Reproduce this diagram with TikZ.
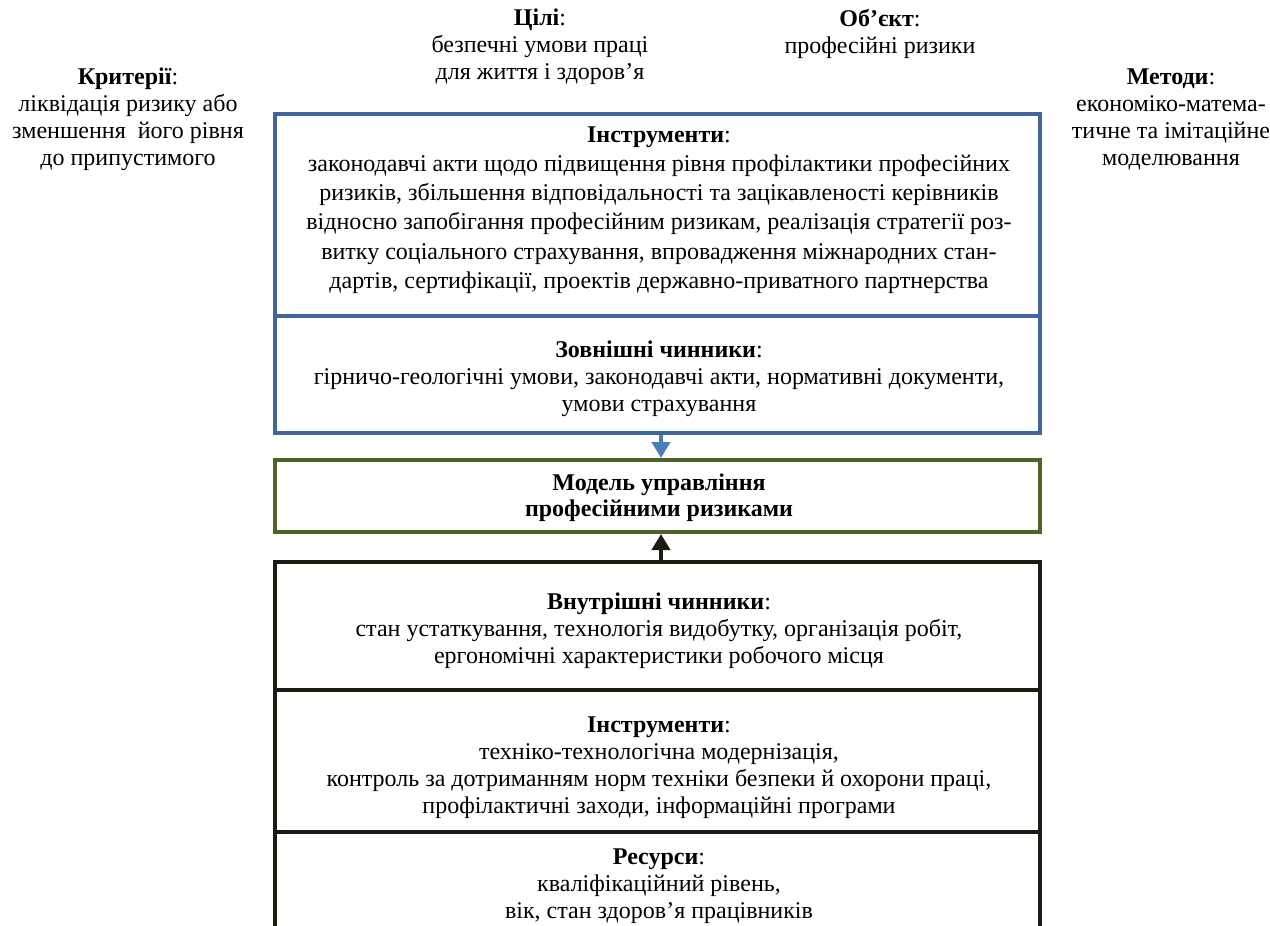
\documentclass[tikz,border=0pt]{standalone}
\usepackage{fontspec}
\setmainfont{Liberation Serif}
\usetikzlibrary{arrows.meta}
\definecolor{bbord}{HTML}{41679A}
\definecolor{barrow}{HTML}{4A7EBB}
\definecolor{gbord}{HTML}{4F6228}
\definecolor{kbord}{HTML}{1E1C12}
\tikzset{
  txt/.style={align=center, inner sep=0pt, font=\fontsize{12}{13.5}\selectfont},
  txtw/.style={align=center, inner sep=0pt, font=\fontsize{12}{14.6}\selectfont},
  bluebox/.style={draw=bbord, line width=2pt, minimum width=382.5pt, inner sep=0pt},
  greenbox/.style={draw=gbord, line width=2pt, minimum width=382.5pt, inner sep=0pt},
  blackbox/.style={draw=kbord, line width=2pt, minimum width=382.5pt, inner sep=0pt},
  conn/.style={line width=2pt, -{Triangle[width=9pt,length=8pt]}}
}
\begin{document}
\begin{tikzpicture}[x=0.5pt,y=-0.5pt]
\useasboundingbox (0,0) rectangle (1270,926);
% top labels
\node[txt] (goals) at (540,47) {\textbf{Цілі}:\\безпечні умови праці\\для життя і здоров’я};
\node[txt] (object) at (880,34) {\textbf{Об’єкт}:\\професійні ризики};
\node[txt] (crit) at (128,119) {\textbf{Критерії}:\\ ліквідація ризику або\\зменшення \ його рівня\\до припустимого};
\node[txt] (meth) at (1171,119) {\textbf{Методи}:\\економіко-матема-\\тичне та імітаційне\\моделювання};
% blue box
\node[bluebox, minimum height=101pt] (instrA) at (657.5,215) {};
\node[bluebox, minimum height=58.5pt] (ext) at (657.5,374.5) {};
\node[txtw] (instrAt) at (659,210) {\textbf{Інструменти}:\\законодавчі акти щодо підвищення рівня профілактики професійних\\ризиків, збільшення відповідальності та зацікавленості керівників\\відносно запобігання професійним ризикам, реалізація стратегії роз-\\витку соціального страхування, впровадження міжнародних стан-\\дартів, сертифікації, проектів державно-приватного партнерства};
\node[txt] (extt) at (659,379) {\textbf{Зовнішні чинники}:\\гірничо-геологічні умови, законодавчі акти, нормативні документи,\\умови страхування};
% green box
\node[greenbox, minimum height=36pt] (model) at (657.5,496) {};
\node[txt, font=\fontsize{12}{13}\bfseries] (modelt) at (659,498) {Модель управління\\професійними ризиками};
% black box
\node[blackbox, minimum height=64pt] (int) at (657.5,626) {};
\node[blackbox, minimum height=71pt] (instrB) at (657.5,761) {};
\coordinate (resTL) at (275,832);
\coordinate (resTR) at (1040,832);
\coordinate (resL) at (275,960);
\coordinate (resR) at (1040,960);
\draw[kbord, line width=2pt] (resTL) -- (resL);
\draw[kbord, line width=2pt] (resTR) -- (resR);
\node[txt] (intt) at (659,631) {\textbf{Внутрішні чинники}:\\стан устаткування, технологія видобутку, організація робіт,\\ергономічні характеристики робочого місця};
\node[txt] (instrBt) at (659,768) {\textbf{Інструменти}:\\техніко-технологічна модернізація,\\контроль за дотриманням норм техніки безпеки й охорони праці,\\профілактичні заходи, інформаційні програми};
\node[txt] (rest) at (659,886) {\textbf{Ресурси}:\\кваліфікаційний рівень,\\вік, стан здоров’я працівників};
% connectors
\draw[conn, barrow] (ext.south -| 661,0) -- (model.north -| 661,0);
\draw[conn, kbord] (int.north -| 661,0) -- (model.south -| 661,0);
\end{tikzpicture}
\end{document}
